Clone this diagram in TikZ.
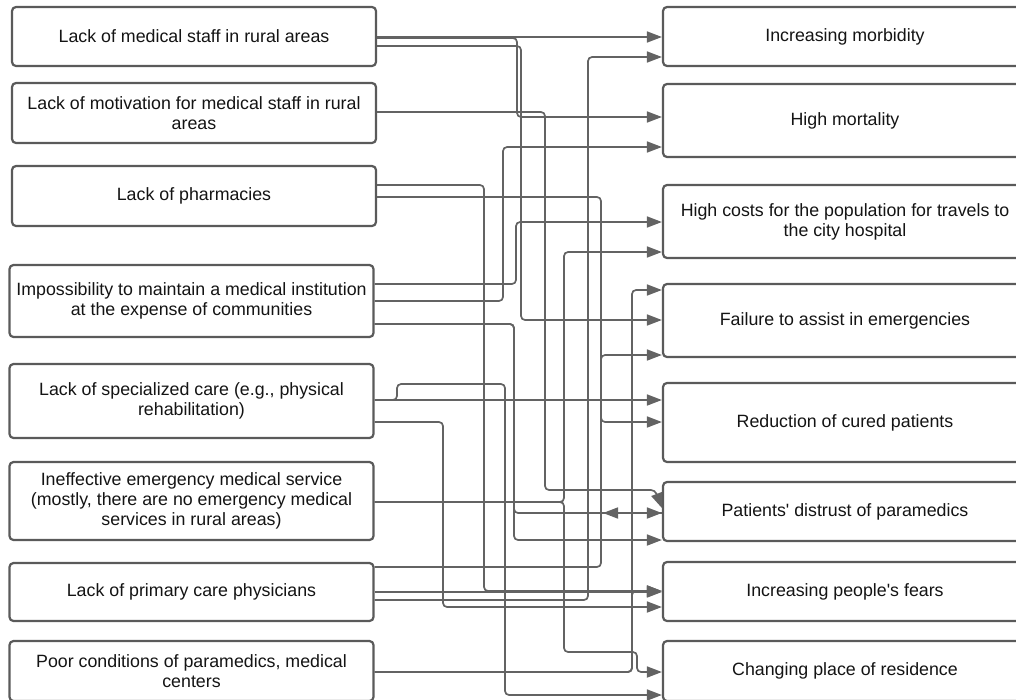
\documentclass[tikz,border=0pt]{standalone}
\usepackage{fontspec}
\setmainfont{Liberation Sans}
\usetikzlibrary{arrows.meta}

\definecolor{boxgray}{HTML}{5A5A5A}
\definecolor{linkgray}{HTML}{636363}

\begin{document}
\begin{tikzpicture}[x=1pt,y=-1pt,
  cause/.style={draw=boxgray,fill=white,line width=2.2pt,rounded corners=4pt,
    minimum width=364pt,align=center,inner sep=2pt,text=black!92,
    font=\fontsize{17.8}{20}\selectfont},
  effect/.style={cause},
  link/.style={draw=linkgray,line width=1.7pt,rounded corners=4pt,
    -{Triangle[length=15pt,width=11pt]}}]
  \useasboundingbox (0,0) rectangle (1016,699);
  \clip (0,0) rectangle (1016,699);

  % causes
  \node[cause,minimum height=59pt] (c1) at (194,36.5) {Lack of medical staff in rural areas};
  \node[cause,minimum height=60pt] (c2) at (194,113) {Lack of motivation for medical staff in rural\\areas};
  \node[cause,minimum height=60pt] (c3) at (194,196) {Lack of pharmacies};
  \node[cause,minimum height=72pt] (c4) at (191.5,301) {Impossibility to maintain a medical institution\\at the expense of communities};
  \node[cause,minimum height=74pt] (c5) at (191.5,401) {Lack of specialized care (e.g., physical\\rehabilitation)};
  \node[cause,minimum height=78pt] (c6) at (191.5,501) {Ineffective emergency medical service\\(mostly, there are no emergency medical\\services in rural areas)};
  \node[cause,minimum height=58pt] (c7) at (191.5,592) {Lack of primary care physicians};
  \node[cause,minimum height=60pt] (c8) at (191.5,671) {Poor conditions of paramedics, medical\\centers};

  % effects
  \node[effect,minimum height=59pt] (e1) at (845,36.5) {Increasing morbidity};
  \node[effect,minimum height=73pt] (e2) at (845,120.5) {High mortality};
  \node[effect,minimum height=73pt] (e3) at (845,221.5) {High costs for the population for travels to\\the city hospital};
  \node[effect,minimum height=73pt] (e4) at (845,320.5) {Failure to assist in emergencies};
  \node[effect,minimum height=79pt] (e5) at (845,422.5) {Reduction of cured patients};
  \node[effect,minimum height=59pt] (e6) at (845,511.5) {Patients\textquotesingle{} distrust of paramedics};
  \node[effect,minimum height=59pt] (e7) at (845,591.5) {Increasing people\textquotesingle s fears};
  \node[effect,minimum height=60pt] (e8) at (845,671) {Changing place of residence};

  % links
  \draw[link] (c1.east |- 0,37) -- (e1.west |- 0,37);
  \draw[link] (c1.east |- 0,38) -- (517,38) -- (517,117) -- (e2.west |- 0,117);
  \draw[link] (c1.east |- 0,46) -- (521,46) -- (521,320) -- (e4.west |- 0,320);
  \draw[link] (c2.east |- 0,112) -- (545,112) -- (545,490) -- (655,490) -- (e6.west |- 0,508);
  \draw[link] (c3.east |- 0,185) -- (484,185) -- (484,591) -- (e7.west |- 0,591);
  \draw[link] (c3.east |- 0,197) -- (601,197) -- (601,422) -- (e5.west |- 0,422);
  \draw[link] (c4.east |- 0,284) -- (516,284) -- (516,222) -- (e3.west |- 0,222);
  \draw[link] (c4.east |- 0,301) -- (503,301) -- (503,147) -- (e2.west |- 0,147);
  \draw[link] (c4.east |- 0,324) -- (514,324) -- (514,513) -- (e6.west |- 0,513);
  \draw[link] (c4.east |- 0,324) -- (514,324) -- (514,540) -- (e6.west |- 0,540);
  \draw[link] (c5.east |- 0,400) -- (e5.west |- 0,400);
  \draw[link] (c5.east |- 0,400) -- (397,400) -- (397,384) -- (505,384) -- (505,695) -- (e8.west |- 0,695);
  \draw[link] (c5.east |- 0,422) -- (443,422) -- (443,607) -- (e7.west |- 0,607);
  \draw[link] (c6.east |- 0,502) -- (564,502) -- (564,252) -- (e3.west |- 0,252);
  \draw[link] (c6.east |- 0,502) -- (564,502) -- (564,652) -- (637,652) -- (637,672) -- (e8.west |- 0,672);
  \draw[link] (c7.east |- 0,567) -- (601,567) -- (601,355) -- (e4.west |- 0,355);
  \draw[link] (c7.east |- 0,592) -- (e7.west |- 0,592);
  \draw[link] (c7.east |- 0,600) -- (588,600) -- (588,57) -- (e1.west |- 0,57);
  \draw[link] (c8.east |- 0,672) -- (632,672) -- (632,290) -- (e4.west |- 0,290);
  \draw[link] (c8.east |- 0,672) -- (632,672) -- (632,591) -- (e7.west |- 0,591);
  \draw[link] (e6.west |- 0,513) -- (603,513);
\end{tikzpicture}
\end{document}
